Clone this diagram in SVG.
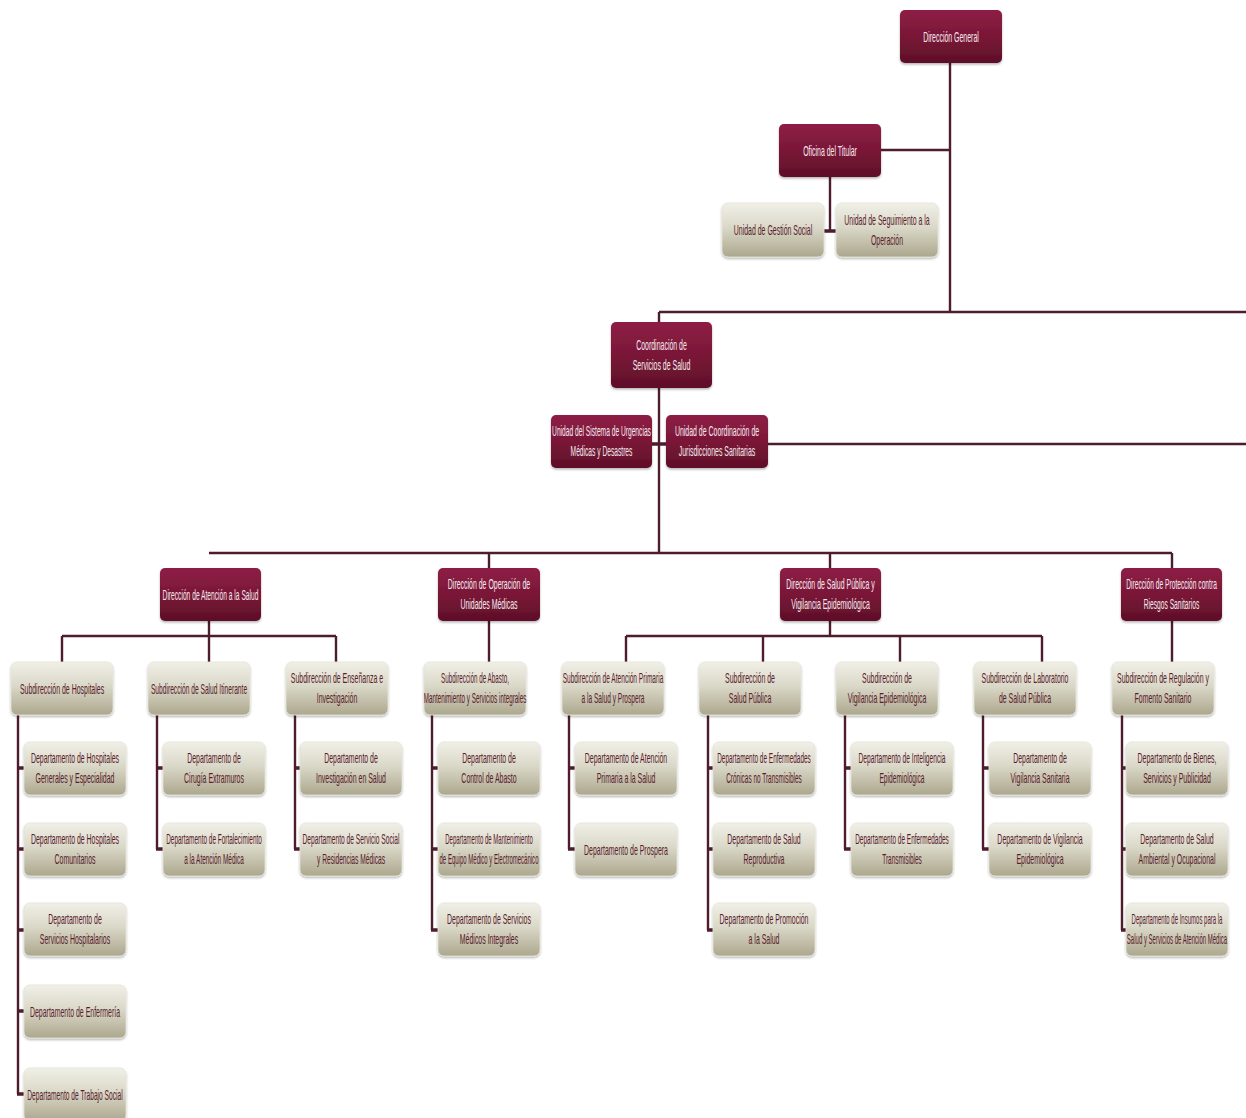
<svg xmlns="http://www.w3.org/2000/svg" width="1246" height="1118" viewBox="0 0 1246 1118">
<defs>
<linearGradient id="gm" x1="0" y1="0" x2="0" y2="1"><stop offset="0" stop-color="#8e1f46"/><stop offset="0.5" stop-color="#7a1737"/><stop offset="1" stop-color="#5e0f29"/></linearGradient>
<linearGradient id="gl" x1="0" y1="0" x2="0" y2="1"><stop offset="0" stop-color="#f1f0e8"/><stop offset="0.45" stop-color="#dad8c8"/><stop offset="1" stop-color="#aca78e"/></linearGradient>
<filter id="sh" x="-10%" y="-10%" width="120%" height="130%"><feDropShadow dx="0" dy="1.5" stdDeviation="1.2" flood-color="#000" flood-opacity="0.3"/></filter>
</defs>
<style>
.m{fill:url(#gm);filter:url(#sh)}
.l{fill:url(#gl);stroke:#e6e4d8;stroke-width:0.8;filter:url(#sh)}
text{font-family:"Liberation Sans",Arial,sans-serif;font-size:14.5px;text-anchor:middle}
.tm{fill:#f6e9ee}
.tl{fill:#5a1c2c}
.ln{stroke:#4e1d2c;stroke-width:2.4;fill:none}
.st{stroke:#4e1d2c;stroke-width:3.6;fill:none}
</style>
<rect width="1246" height="1118" fill="#ffffff"/>
<g id="connectors">
<path class="ln" d="M950 63V312M881 150H950M830 177V231M659 312H1246M659 312V553M768 444H1246M209 553H1172M489 553V568M830 553V568M1172 553V568"/>
<path class="st" d="M823 231H836M652 444H666"/>
<path class="ln" d="M209 621V636M62 636H336M62 636V662M209 636V662M336 636V662"/>
<path class="ln" d="M489 621V662M1172 621V662"/>
<path class="ln" d="M830 621V636M626 636H1042M626 636V662M763 636V662M900 636V662M1042 636V662"/>
<path class="ln" d="M18 715V1094M157 715V849M295 715V849M432 715V930M569 715V849M708 715V930M845 715V849M983 715V849M1122 715V930"/>
<path class="st" d="M17 768H24M17 849H24M17 930H24M17 1011H24M17 1094H24M156 768H163M156 849H163M294 768H300M294 849H300M431 768H438M431 849H438M431 930H438M568 768H575M568 849H575M707 768H713M707 849H713M707 930H713M844 768H851M844 849H851M982 768H989M982 849H989M1121 768H1126M1121 849H1126M1121 930H1126"/>
</g>
<g id="n-direccion-general"><rect class="m" x="900" y="10" width="102" height="53" rx="5"/><text class="tm" transform="translate(951,36.5) scale(0.48,1)"><tspan x="0" y="5">Dirección General</tspan></text></g>
<g id="n-oficina-titular"><rect class="m" x="779" y="124" width="102" height="53" rx="5"/><text class="tm" transform="translate(830,150.5) scale(0.48,1)"><tspan x="0" y="5">Oficina del Titular</tspan></text></g>
<g id="n-gestion-social"><rect class="l" x="722" y="203" width="102" height="54" rx="6"/><text class="tl" transform="translate(773,230) scale(0.48,1)"><tspan x="0" y="5">Unidad de Gestión Social</tspan></text></g>
<g id="n-seguimiento"><rect class="l" x="836" y="203" width="102" height="54" rx="6"/><text class="tl" transform="translate(887,230) scale(0.48,1)"><tspan x="0" y="-5.5">Unidad de Seguimiento a la</tspan><tspan x="0" y="15">Operación</tspan></text></g>
<g id="n-coordinacion"><rect class="m" x="611" y="322" width="101" height="66" rx="5"/><text class="tm" transform="translate(661.5,355) scale(0.48,1)"><tspan x="0" y="-5.5">Coordinación de</tspan><tspan x="0" y="15">Servicios de Salud</tspan></text></g>
<g id="n-urgencias"><rect class="m" x="551" y="415" width="101" height="53" rx="5"/><text class="tm" transform="translate(601.5,441.5) scale(0.46,1)"><tspan x="0" y="-5.5">Unidad del Sistema de Urgencias</tspan><tspan x="0" y="15">Médicas y Desastres</tspan></text></g>
<g id="n-jurisdicciones"><rect class="m" x="666" y="415" width="102" height="53" rx="5"/><text class="tm" transform="translate(717,441.5) scale(0.48,1)"><tspan x="0" y="-5.5">Unidad de Coordinación de</tspan><tspan x="0" y="15">Jurisdicciones Sanitarias</tspan></text></g>
<g id="n-dir-atencion"><rect class="m" x="160" y="568" width="101" height="53" rx="5"/><text class="tm" transform="translate(210.5,594.5) scale(0.46,1)"><tspan x="0" y="5">Dirección de Atención a la Salud</tspan></text></g>
<g id="n-dir-operacion"><rect class="m" x="438" y="568" width="102" height="53" rx="5"/><text class="tm" transform="translate(489,594.5) scale(0.48,1)"><tspan x="0" y="-5.5">Dirección de Operación de</tspan><tspan x="0" y="15">Unidades Médicas</tspan></text></g>
<g id="n-dir-salud-publica"><rect class="m" x="780" y="568" width="101" height="53" rx="5"/><text class="tm" transform="translate(830.5,594.5) scale(0.48,1)"><tspan x="0" y="-5.5">Dirección de Salud Pública y</tspan><tspan x="0" y="15">Vigilancia Epidemiológica</tspan></text></g>
<g id="n-dir-proteccion"><rect class="m" x="1121" y="568" width="101" height="53" rx="5"/><text class="tm" transform="translate(1171.5,594.5) scale(0.46,1)"><tspan x="0" y="-5.5">Dirección de Protección contra</tspan><tspan x="0" y="15">Riesgos Sanitarios</tspan></text></g>
<g id="n-sub-hospitales"><rect class="l" x="11" y="662" width="102" height="53" rx="6"/><text class="tl" transform="translate(62,688.5) scale(0.48,1)"><tspan x="0" y="5">Subdirección de Hospitales</tspan></text></g>
<g id="n-sub-itinerante"><rect class="l" x="148" y="662" width="102" height="53" rx="6"/><text class="tl" transform="translate(199,688.5) scale(0.46,1)"><tspan x="0" y="5">Subdirección de Salud Itinerante</tspan></text></g>
<g id="n-sub-ensenanza"><rect class="l" x="286" y="662" width="102" height="53" rx="6"/><text class="tl" transform="translate(337,688.5) scale(0.48,1)"><tspan x="0" y="-5.5">Subdirección de Enseñanza e</tspan><tspan x="0" y="15">Investigación</tspan></text></g>
<g id="n-sub-abasto"><rect class="l" x="424" y="662" width="102" height="53" rx="6"/><text class="tl" transform="translate(475,688.5) scale(0.435,1)"><tspan x="0" y="-5.5">Subdirección de Abasto,</tspan><tspan x="0" y="15">Mantenimiento y Servicios integrales</tspan></text></g>
<g id="n-sub-atencion-primaria"><rect class="l" x="562" y="662" width="102" height="53" rx="6"/><text class="tl" transform="translate(613,688.5) scale(0.455,1)"><tspan x="0" y="-5.5">Subdirección de Atención Primaria</tspan><tspan x="0" y="15">a la Salud y Prospera</tspan></text></g>
<g id="n-sub-salud-publica"><rect class="l" x="699" y="662" width="102" height="53" rx="6"/><text class="tl" transform="translate(750,688.5) scale(0.48,1)"><tspan x="0" y="-5.5">Subdirección de</tspan><tspan x="0" y="15">Salud Pública</tspan></text></g>
<g id="n-sub-vigilancia"><rect class="l" x="836" y="662" width="102" height="53" rx="6"/><text class="tl" transform="translate(887,688.5) scale(0.48,1)"><tspan x="0" y="-5.5">Subdirección de</tspan><tspan x="0" y="15">Vigilancia Epidemiológica</tspan></text></g>
<g id="n-sub-laboratorio"><rect class="l" x="974" y="662" width="102" height="53" rx="6"/><text class="tl" transform="translate(1025,688.5) scale(0.48,1)"><tspan x="0" y="-5.5">Subdirección de Laboratorio</tspan><tspan x="0" y="15">de Salud Pública</tspan></text></g>
<g id="n-sub-regulacion"><rect class="l" x="1112" y="662" width="102" height="53" rx="6"/><text class="tl" transform="translate(1163,688.5) scale(0.48,1)"><tspan x="0" y="-5.5">Subdirección de Regulación y</tspan><tspan x="0" y="15">Fomento Sanitario</tspan></text></g>
<g id="n-dep-hosp-generales"><rect class="l" x="24" y="742" width="102" height="53" rx="6"/><text class="tl" transform="translate(75,768.5) scale(0.48,1)"><tspan x="0" y="-5.5">Departamento de Hospitales</tspan><tspan x="0" y="15">Generales y Especialidad</tspan></text></g>
<g id="n-dep-hosp-comunitarios"><rect class="l" x="24" y="823" width="102" height="53" rx="6"/><text class="tl" transform="translate(75,849.5) scale(0.48,1)"><tspan x="0" y="-5.5">Departamento de Hospitales</tspan><tspan x="0" y="15">Comunitarios</tspan></text></g>
<g id="n-dep-serv-hospitalarios"><rect class="l" x="24" y="903" width="102" height="53" rx="6"/><text class="tl" transform="translate(75,929.5) scale(0.48,1)"><tspan x="0" y="-5.5">Departamento de</tspan><tspan x="0" y="15">Servicios Hospitalarios</tspan></text></g>
<g id="n-dep-enfermeria"><rect class="l" x="24" y="985" width="102" height="53" rx="6"/><text class="tl" transform="translate(75,1011.5) scale(0.48,1)"><tspan x="0" y="5">Departamento de Enfermería</tspan></text></g>
<g id="n-dep-trabajo-social"><rect class="l" x="24" y="1068" width="102" height="53" rx="6"/><text class="tl" transform="translate(75,1094.5) scale(0.46,1)"><tspan x="0" y="5">Departamento de Trabajo Social</tspan></text></g>
<g id="n-dep-cirugia"><rect class="l" x="163" y="742" width="102" height="53" rx="6"/><text class="tl" transform="translate(214,768.5) scale(0.48,1)"><tspan x="0" y="-5.5">Departamento de</tspan><tspan x="0" y="15">Cirugía Extramuros</tspan></text></g>
<g id="n-dep-fortalecimiento"><rect class="l" x="163" y="823" width="102" height="53" rx="6"/><text class="tl" transform="translate(214,849.5) scale(0.445,1)"><tspan x="0" y="-5.5">Departamento de Fortalecimiento</tspan><tspan x="0" y="15">a la Atención Médica</tspan></text></g>
<g id="n-dep-investigacion"><rect class="l" x="300" y="742" width="102" height="53" rx="6"/><text class="tl" transform="translate(351,768.5) scale(0.48,1)"><tspan x="0" y="-5.5">Departamento de</tspan><tspan x="0" y="15">Investigación en Salud</tspan></text></g>
<g id="n-dep-servicio-social"><rect class="l" x="300" y="823" width="102" height="53" rx="6"/><text class="tl" transform="translate(351,849.5) scale(0.46,1)"><tspan x="0" y="-5.5">Departamento de Servicio Social</tspan><tspan x="0" y="15">y Residencias Médicas</tspan></text></g>
<g id="n-dep-control-abasto"><rect class="l" x="438" y="742" width="102" height="53" rx="6"/><text class="tl" transform="translate(489,768.5) scale(0.48,1)"><tspan x="0" y="-5.5">Departamento de</tspan><tspan x="0" y="15">Control de Abasto</tspan></text></g>
<g id="n-dep-mantenimiento"><rect class="l" x="438" y="823" width="102" height="53" rx="6"/><text class="tl" transform="translate(489,849.5) scale(0.415,1)"><tspan x="0" y="-5.5">Departamento de Mantenimiento</tspan><tspan x="0" y="15">de Equipo Médico y Electromecánico</tspan></text></g>
<g id="n-dep-servicios-integrales"><rect class="l" x="438" y="903" width="102" height="53" rx="6"/><text class="tl" transform="translate(489,929.5) scale(0.48,1)"><tspan x="0" y="-5.5">Departamento de Servicios</tspan><tspan x="0" y="15">Médicos Integrales</tspan></text></g>
<g id="n-dep-atencion-primaria"><rect class="l" x="575" y="742" width="102" height="53" rx="6"/><text class="tl" transform="translate(626,768.5) scale(0.48,1)"><tspan x="0" y="-5.5">Departamento de Atención</tspan><tspan x="0" y="15">Primaria a la Salud</tspan></text></g>
<g id="n-dep-prospera"><rect class="l" x="575" y="823" width="102" height="53" rx="6"/><text class="tl" transform="translate(626,849.5) scale(0.48,1)"><tspan x="0" y="5">Departamento de Prospera</tspan></text></g>
<g id="n-dep-cronicas"><rect class="l" x="713" y="742" width="102" height="53" rx="6"/><text class="tl" transform="translate(764,768.5) scale(0.445,1)"><tspan x="0" y="-5.5">Departamento de Enfermedades</tspan><tspan x="0" y="15">Crónicas no Transmisibles</tspan></text></g>
<g id="n-dep-reproductiva"><rect class="l" x="713" y="823" width="102" height="53" rx="6"/><text class="tl" transform="translate(764,849.5) scale(0.48,1)"><tspan x="0" y="-5.5">Departamento de Salud</tspan><tspan x="0" y="15">Reproductiva</tspan></text></g>
<g id="n-dep-promocion"><rect class="l" x="713" y="903" width="102" height="53" rx="6"/><text class="tl" transform="translate(764,929.5) scale(0.48,1)"><tspan x="0" y="-5.5">Departamento de Promoción</tspan><tspan x="0" y="15">a la Salud</tspan></text></g>
<g id="n-dep-inteligencia"><rect class="l" x="851" y="742" width="102" height="53" rx="6"/><text class="tl" transform="translate(902,768.5) scale(0.46,1)"><tspan x="0" y="-5.5">Departamento de Inteligencia</tspan><tspan x="0" y="15">Epidemiológica</tspan></text></g>
<g id="n-dep-transmisibles"><rect class="l" x="851" y="823" width="102" height="53" rx="6"/><text class="tl" transform="translate(902,849.5) scale(0.445,1)"><tspan x="0" y="-5.5">Departamento de Enfermedades</tspan><tspan x="0" y="15">Transmisibles</tspan></text></g>
<g id="n-dep-vig-sanitaria"><rect class="l" x="989" y="742" width="102" height="53" rx="6"/><text class="tl" transform="translate(1040,768.5) scale(0.48,1)"><tspan x="0" y="-5.5">Departamento de</tspan><tspan x="0" y="15">Vigilancia Sanitaria</tspan></text></g>
<g id="n-dep-vig-epidemiologica"><rect class="l" x="989" y="823" width="102" height="53" rx="6"/><text class="tl" transform="translate(1040,849.5) scale(0.48,1)"><tspan x="0" y="-5.5">Departamento de Vigilancia</tspan><tspan x="0" y="15">Epidemiológica</tspan></text></g>
<g id="n-dep-bienes"><rect class="l" x="1126" y="742" width="102" height="53" rx="6"/><text class="tl" transform="translate(1177,768.5) scale(0.48,1)"><tspan x="0" y="-5.5">Departamento de Bienes,</tspan><tspan x="0" y="15">Servicios y Publicidad</tspan></text></g>
<g id="n-dep-ambiental"><rect class="l" x="1126" y="823" width="102" height="53" rx="6"/><text class="tl" transform="translate(1177,849.5) scale(0.48,1)"><tspan x="0" y="-5.5">Departamento de Salud</tspan><tspan x="0" y="15">Ambiental y Ocupacional</tspan></text></g>
<g id="n-dep-insumos"><rect class="l" x="1126" y="903" width="102" height="53" rx="6"/><text class="tl" transform="translate(1177,929.5) scale(0.415,1)"><tspan x="0" y="-5.5">Departamento de Insumos para la</tspan><tspan x="0" y="15">Salud y Servicios de Atención Médica</tspan></text></g>
</svg>
